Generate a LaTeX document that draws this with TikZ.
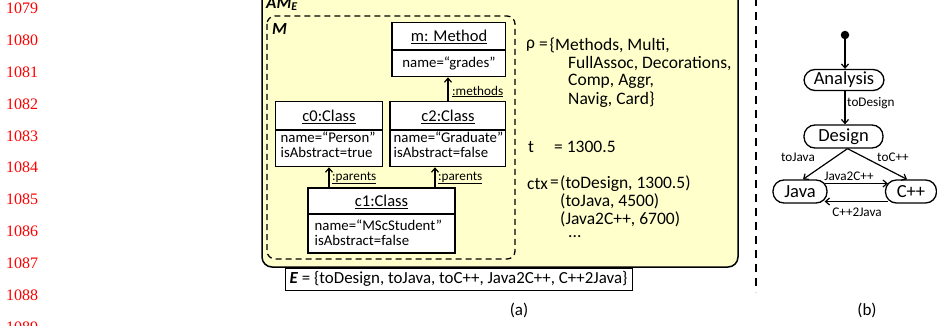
\documentclass[tikz,border=0pt]{standalone}
\usepackage{fontspec}
\setmainfont{Carlito}
\newfontfamily\numfont{Liberation Serif}
\usetikzlibrary{arrows.meta}
\definecolor{paleyellow}{RGB}{255,255,204}
\definecolor{numred}{RGB}{255,0,0}
\tikzset{
  umlbox/.style={draw, line width=1.3pt, fill=white, inner sep=0pt},
  umltitle/.style={font=\fontsize{16.5}{18}\selectfont, inner sep=0pt},
  attr/.style={font=\fontsize{14.8}{15}\selectfont, anchor=west, align=left, inner sep=0pt},
  smalllab/.style={font=\fontsize{13.2}{14}\selectfont, inner sep=0pt},
  arr/.style={-{Straight Barb[length=4pt,width=7pt]}, line width=1.2pt},
  statebox/.style={draw, line width=1.3pt, rounded corners=11pt, fill=white, inner sep=0pt, font=\fontsize{18.5}{19}\selectfont},
  txt/.style={font=\fontsize{17.5}{18}\selectfont, anchor=west, inner sep=0pt},
  lnum/.style={font=\numfont\fontsize{16}{18}\selectfont, text=numred, anchor=west, inner sep=0pt},
  caption/.style={font=\fontsize{17}{18}\selectfont, inner sep=0pt}
}
\begin{document}
\begin{tikzpicture}[x=1pt,y=-1pt]
\clip (0,0) rectangle (937,326);
\useasboundingbox (0,0) rectangle (937,326);
% line numbers
\foreach \n [count=\k from 0] in {1079,1080,1081,1082,1083,1084,1085,1086,1087,1088,1089}
  \node[lnum] (ln\k) at (6,{8.5+31.85*\k}) {\n};
% outer yellow box
\draw[line width=1.5pt, fill=paleyellow, rounded corners=10pt] (262,-20) rectangle (738,267);
\node[anchor=west, inner sep=0pt, font=\fontsize{17}{18}\selectfont\bfseries\itshape] (ame) at (266,4) {AM\textsubscript{E}};
% dashed M box
\draw[line width=1.3pt, dash pattern=on 6pt off 4pt, rounded corners=8pt] (267,16) rectangle (515,259);
\node[anchor=west, inner sep=0pt, font=\fontsize{17}{18}\selectfont\bfseries\itshape] (mlab) at (272,29) {M};
% m: Method
\node[umlbox, minimum width=113.7, minimum height=54] (m) at (448.85,49.7) {};
\draw[line width=1.3pt] (m.west |- 0,50) -- (m.east |- 0,50);
\node[umltitle] (mt) at (449,37) {\underline{m: Method}};
\node[attr, anchor=center] (ma) at (449,63.5) {name=“grades”};
% c0
\node[umlbox, minimum width=107, minimum height=65] (c0) at (329.2,134.2) {};
\draw[line width=1.3pt] (c0.west |- 0,130) -- (c0.east |- 0,130);
\node[umltitle] (c0t) at (329,117) {\underline{c0:Class}};
\node[attr] (c0a) at (280.5,144.5) {name=“Person”\\isAbstract=true};
% c2
\node[umlbox, minimum width=115.7, minimum height=65] (c2) at (447.85,134.2) {};
\draw[line width=1.3pt] (c2.west |- 0,130) -- (c2.east |- 0,130);
\node[umltitle] (c2t) at (448,117) {\underline{c2:Class}};
\node[attr] (c2a) at (393.5,144.5) {name=“Graduate”\\isAbstract=false};
% c1
\node[umlbox, minimum width=147, minimum height=65] (c1) at (381.5,220.5) {};
\draw[line width=1.3pt] (c1.west |- 0,214) -- (c1.east |- 0,214);
\node[umltitle] (c1t) at (381.5,202) {\underline{c1:Class}};
\node[attr] (c1a) at (314.5,232.5) {name=“MScStudent”\\isAbstract=false};
% associations
\draw[arr] (c1.north -| 329,0) -- (c0.south -| 329,0);
\draw[arr] (c1.north -| 435,0) -- (c2.south -| 435,0);
\draw[arr] (c2.north -| 448,0) -- (m.south -| 448,0);
\node[smalllab, anchor=west] (p1) at (332,178) {\underline{:parents}};
\node[smalllab, anchor=west] (p2) at (438,178) {\underline{:parents}};
\node[smalllab, anchor=west] (mm) at (452,91.5) {\underline{:methods}};
% right text
\node[txt] (rho) at (526,45.5) {ρ};
\node[txt] (rhoeq) at (539,45.5) {=};
\node[txt] (rho1) at (549.5,45.5) {\{Methods, Multi,};
\node[txt] (rho2) at (568,63.5) {FullAssoc, Decorations,};
\node[txt] (rho3) at (568,81.5) {Comp, Aggr,};
\node[txt] (rho4) at (568,99.5) {Navig, Card\}};
\node[txt] (tt) at (528,147) {t};
\node[txt] (tv) at (554,147) {= 1300.5};
\node[txt] (ctx) at (527,184) {ctx};
\node[txt] (ctxeq) at (550,184) {=};
\node[txt] (cx1) at (560,184) {(toDesign, 1300.5)};
\node[txt] (cx2) at (560,201.5) {(toJava, 4500)};
\node[txt] (cx3) at (560,219) {(Java2C++, 6700)};
\node[txt] (cx4) at (568,237) {...};
% E box
\node[draw, line width=1pt, fill=white, minimum width=347, minimum height=22, inner sep=0pt, font=\fontsize{16.9}{18}\selectfont] (E) at (458.5,279) {\textbf{\textit{E}} = \{toDesign, toJava, toC++, Java2C++, C++2Java\}};
\node[caption] (capa) at (519,310) {(a)};
% separator
\draw[line width=2pt, dash pattern=on 8pt off 6pt] (756,-2) -- (756,292);
% state diagram
\node[circle, fill=black, inner sep=0pt, minimum size=8.5] (init) at (845,35) {};
\node[statebox, minimum width=80, minimum height=21] (A) at (844,80) {Analysis};
\node[statebox, minimum width=79, minimum height=23] (D) at (843.5,136.5) {Design};
\node[statebox, minimum width=54, minimum height=23] (J) at (800,191.5) {Java};
\node[statebox, minimum width=51, minimum height=23] (C) at (911,191.5) {C++};
\draw[arr] (init) -- (A.north -| init);
\draw[arr] (A.south -| init) -- (D.north -| init);
\node[smalllab, anchor=west] (l1) at (847,103) {toDesign};
\draw[arr] ([xshift=4pt]D.south) -- ([xshift=3pt]J.north);
\draw[arr] ([xshift=4pt]D.south) -- ([xshift=-4pt]C.north);
\node[smalllab] (l2) at (798,157) {toJava};
\node[smalllab] (l3) at (893,157) {toC++};
\draw[arr] ([xshift=-3pt,yshift=8pt]J.east) -- ([xshift=3pt,yshift=8pt]C.west);
\draw[arr] ([xshift=3pt,yshift=-10pt]C.west) -- ([xshift=-3pt,yshift=-10pt]J.east);
\node[smalllab] (l4) at (849,176) {Java2C++};
\node[smalllab] (l5) at (857,212) {C++2Java};
\node[caption] (capb) at (867,310) {(b)};
\end{tikzpicture}
\end{document}
